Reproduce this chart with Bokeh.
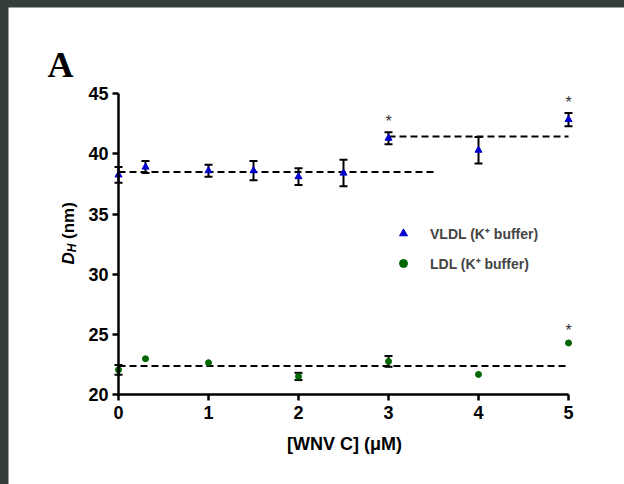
import math
from bokeh.plotting import figure
from bokeh.models import Range1d, FixedTicker, Label, Legend, LegendItem
from bokeh.embed import file_html
from bokeh.resources import INLINE
from bokeh.core.properties import value

# ---------------- data ----------------
conc_vldl = [0, 0.3, 1, 1.5, 2, 2.5, 3, 4, 5]
dh_vldl = [38.25, 38.9, 38.6, 38.6, 38.1, 38.4, 41.3, 40.3, 42.85]
err_vldl = [0.65, 0.5, 0.5, 0.8, 0.7, 1.1, 0.5, 1.1, 0.55]

conc_ldl = [0, 0.3, 1, 2, 3, 4, 5]
dh_ldl = [22.05, 22.97, 22.64, 21.5, 22.75, 21.67, 24.28]
err_ldl = [0.4, 0, 0, 0.3, 0.45, 0, 0]   # 0 = error bar hidden by the marker

# significance stars (x positions)
sig_vldl = [3, 5]
sig_ldl = [5]

# dashed mean lines: start x, end x, level
fit_x0 = [0, 3, 0]
fit_x1 = [3.5, 5, 5]
fit_y = [38.5, 41.45, 22.36]

x_ticks = [0, 1, 2, 3, 4, 5]
y_ticks = [20, 25, 30, 35, 40, 45]

# ---------------- layout helpers (page pixels -> data) ----------------
PPX = 90.0
PPY = 361.0 / 30.0
X0_PAGE = 118.0
Y20_PAGE = 394.0
OFF_X, OFF_Y = 8, 7          # white panel offset inside the dark page border
W, H = 624 - OFF_X, 484 - OFF_Y


def px2x(px):
    return (px - X0_PAGE) / PPX


def px2y(py):
    return 20 + (Y20_PAGE - py) / PPY


BLUE = "#0000CC"
GREEN = "#006600"
FONT = "Liberation Sans"

p = figure(width=W, height=H,
           x_range=Range1d(px2x(OFF_X), px2x(624)),
           y_range=Range1d(px2y(484), px2y(OFF_Y)),
           min_border_left=0, min_border_right=0,
           min_border_top=0, min_border_bottom=0,
           toolbar_location=None, output_backend="svg", title=None,
           background_fill_color="white", border_fill_color="white")
p.outline_line_color = None
p.outline_line_alpha = 0
p.outline_line_width = 0
p.grid.visible = False

for ax in (p.xaxis, p.yaxis):
    ax.axis_line_width = 2.5
    ax.axis_line_color = "black"
    ax.major_tick_line_width = 2.5
    ax.major_tick_line_color = "black"
    ax.major_tick_in = 0
    ax.major_tick_out = 6
    ax.minor_tick_line_color = None
    ax.major_label_text_font = FONT
    ax.major_label_text_font_style = "bold"
    ax.major_label_text_font_size = "18px"
    ax.major_label_text_color = "black"

p.xaxis.fixed_location = 20
p.yaxis.fixed_location = 0
p.xaxis.bounds = (0, 5)
p.yaxis.bounds = (20, 45)
p.xaxis.ticker = FixedTicker(ticks=x_ticks)
p.yaxis.ticker = FixedTicker(ticks=y_ticks)
p.xaxis.major_label_standoff = 5
p.yaxis.major_label_standoff = 4

# dashed mean lines
p.segment(x0=fit_x0, y0=fit_y, x1=fit_x1, y1=fit_y, line_color="black",
          line_width=2, line_dash="7 4")

# error bars (only where visible)
for xs, ys, es in ((conc_vldl, dh_vldl, err_vldl), (conc_ldl, dh_ldl, err_ldl)):
    ex = [x for x, e in zip(xs, es) if e > 0]
    lo = [y - e for y, e in zip(ys, es) if e > 0]
    hi = [y + e for y, e in zip(ys, es) if e > 0]
    p.segment(x0=ex, y0=lo, x1=ex, y1=hi, line_color="black", line_width=2)
    p.scatter(ex, lo, marker="dash", size=8, line_color="black", line_width=2)
    p.scatter(ex, hi, marker="dash", size=8, line_color="black", line_width=2)

r_vldl = p.scatter(conc_vldl, dh_vldl, marker="triangle", size=7,
                   fill_color=BLUE, line_color=BLUE)
r_ldl = p.scatter(conc_ldl, dh_ldl, marker="circle", size=6,
                  fill_color=GREEN, line_color=GREEN)

# significance stars above the error bars
star_gap = 10.5 / PPY
sx, sy = [], []
for xs, ys, es, sig in ((conc_vldl, dh_vldl, err_vldl, sig_vldl),
                        (conc_ldl, dh_ldl, err_ldl, sig_ldl)):
    for s in sig:
        i = xs.index(s)
        sx.append(s)
        sy.append(ys[i] + max(es[i], 0.15) + star_gap)
p.text(x=sx, y=sy, text=["*"] * len(sx), text_align="center",
       text_baseline="middle", text_font=value(FONT), text_font_size="16px",
       text_color="#333333")

# legend (location measured from frame bottom-left, in pixels)
legend = Legend(items=[
    LegendItem(label="VLDL (K\u207a buffer)", renderers=[r_vldl]),
    LegendItem(label="LDL (K\u207a buffer)", renderers=[r_ldl]),
], location=(393 - OFF_X, 484 - 273))
legend.padding = 0
legend.margin = 0
legend.spacing = 10
legend.glyph_width = 20
legend.glyph_height = 20
legend.label_height = 20
legend.label_standoff = 17
legend.label_text_font = FONT
legend.label_text_font_style = "bold"
legend.label_text_font_size = "14px"
legend.border_line_color = None
legend.background_fill_alpha = 0
p.add_layout(legend)

# panel letter
p.add_layout(Label(x=px2x(47), y=px2y(64), text="A", text_font="Liberation Serif",
                   text_font_style="bold", text_font_size="36px",
                   text_align="left", text_baseline="alphabetic", text_color="black"))

# x-axis title
p.add_layout(Label(x=px2x(344), y=px2y(443), text="[WNV C] (\u03bcM)",
                   text_font=FONT, text_font_style="bold", text_font_size="18px",
                   text_align="center", text_baseline="alphabetic", text_color="black"))

# y-axis title: D_H (nm), rotated
ang = math.pi / 2
p.add_layout(Label(x=px2x(67.5), y=px2y(264), text="D", angle=ang,
                   text_font=FONT, text_font_style="bold italic", text_font_size="17px",
                   text_align="left", text_baseline="alphabetic", text_color="black"))
p.add_layout(Label(x=px2x(71.5), y=px2y(264 - 12.3), text="H", angle=ang,
                   text_font=FONT, text_font_style="bold italic", text_font_size="12px",
                   text_align="left", text_baseline="alphabetic", text_color="black"))
p.add_layout(Label(x=px2x(67.5), y=px2y(264 - 12.3 - 8.7 - 4.5), text="(nm)", angle=ang,
                   text_font=FONT, text_font_style="bold", text_font_size="17px",
                   text_align="left", text_baseline="alphabetic", text_color="black"))

html = file_html(p, INLINE, title="DH vs WNV C")
html = html.replace("</head>",
                    "<style>body{margin:0;padding:7px 0 0 8px;background:#343c3c;overflow:hidden}</style></head>")
open("out.html", "w").write(html)
